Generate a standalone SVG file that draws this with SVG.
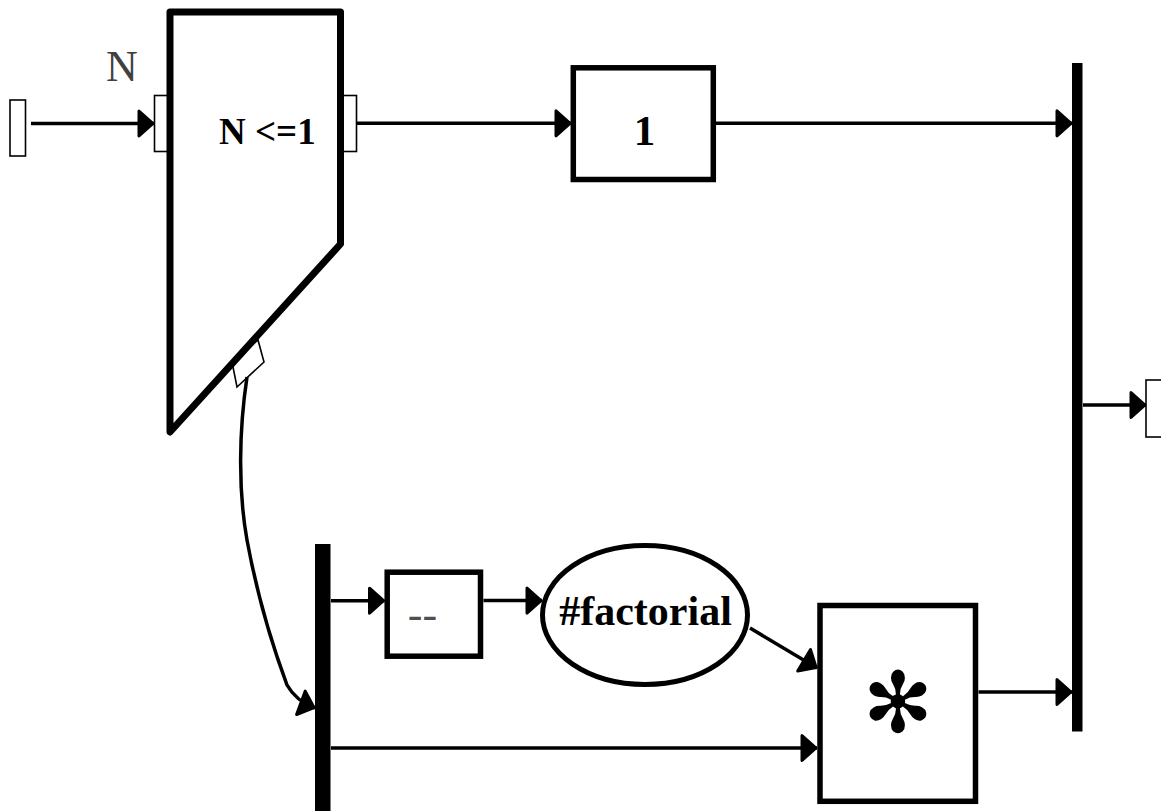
<svg xmlns="http://www.w3.org/2000/svg" width="1161" height="811" viewBox="0 0 1161 811">
<style>
.port{fill:#fff;stroke:#000;stroke-width:1.6}
.box{fill:#fff;stroke:#000;stroke-width:5.5}
.bus{fill:#000}
.conn{fill:none;stroke:#000;stroke-width:3.5;marker-end:url(#ah)}
.t{font-family:"Liberation Serif","Times New Roman",serif}
.b{font-weight:bold;fill:#000}
</style>
<defs>
<marker id="ah" markerUnits="userSpaceOnUse" markerWidth="22" markerHeight="32" viewBox="0 0 22 32" refX="18" refY="16" orient="auto">
<path d="M3,3.5 L17,16 L3,28.5 z" fill="#000" stroke="#000" stroke-width="3" stroke-linejoin="round"/>
</marker>
</defs>
<rect id="input" class="port" x="10" y="100" width="15.5" height="56"/>
<g id="condition">
<rect class="port" x="154.5" y="95.5" width="14.5" height="56"/>
<rect class="port" x="342" y="95.5" width="14.5" height="56"/>
<polygon class="port" points="232,362 258,340 264,362 237,387"/>
<polygon points="170,12 340.5,12 340.5,244 170,432" fill="#fff" stroke="#000" stroke-width="7" stroke-linejoin="round"/>
<text class="t" x="106" y="81" font-size="44" fill="#404040">N</text>
<text class="t b" x="219" y="144" font-size="37">N &lt;=1</text>
</g>
<g id="one">
<rect class="box" x="573.3" y="67.8" width="140" height="111.7"/>
<text class="t b" x="644.5" y="145" font-size="43" text-anchor="middle">1</text>
</g>
<rect id="bus-right" class="bus" x="1072" y="63" width="10.5" height="668.5"/>
<rect id="output" class="port" x="1146" y="380" width="20" height="57"/>
<rect id="bus-left" class="bus" x="315" y="544" width="15.5" height="267"/>
<g id="decrement">
<rect class="box" x="387.2" y="572.2" width="93.3" height="84"/>
<text class="t" x="422.5" y="629" font-size="44" fill="#505050" text-anchor="middle">--</text>
</g>
<g id="factorial">
<ellipse cx="645" cy="615" rx="102.5" ry="69.5" fill="#fff" stroke="#000" stroke-width="5"/>
<text class="t b" x="645.5" y="625" font-size="42" text-anchor="middle">#factorial</text>
</g>
<g id="multiply">
<rect class="box" x="820" y="605.5" width="155.5" height="195.8"/>
<text x="898" y="703" font-family="'DejaVu Sans',sans-serif" font-size="84" text-anchor="middle" dominant-baseline="central" fill="#000">✻</text>
</g>
<g id="connectors">
<path class="conn" d="M31,123.5 L154,123.5"/>
<path class="conn" d="M357,123.3 L571,123.3"/>
<path class="conn" d="M716,123.3 L1072,123.3"/>
<path class="conn" d="M1083,405 L1146,405"/>
<path class="conn" d="M331,600.7 L384.5,600.7"/>
<path class="conn" d="M483.5,600.6 L542,600.6"/>
<path class="conn" stroke-width="3" d="M750,628 L817,668"/>
<path class="conn" stroke-width="3" d="M331,748 L817,748"/>
<path class="conn" d="M978.5,692 L1072,692"/>
<path class="conn" stroke-width="3" d="M247,377 C239,430 238,490 247,540 C258,600 274,650 287,685 Q296,701 315,708"/>
</g>
</svg>
